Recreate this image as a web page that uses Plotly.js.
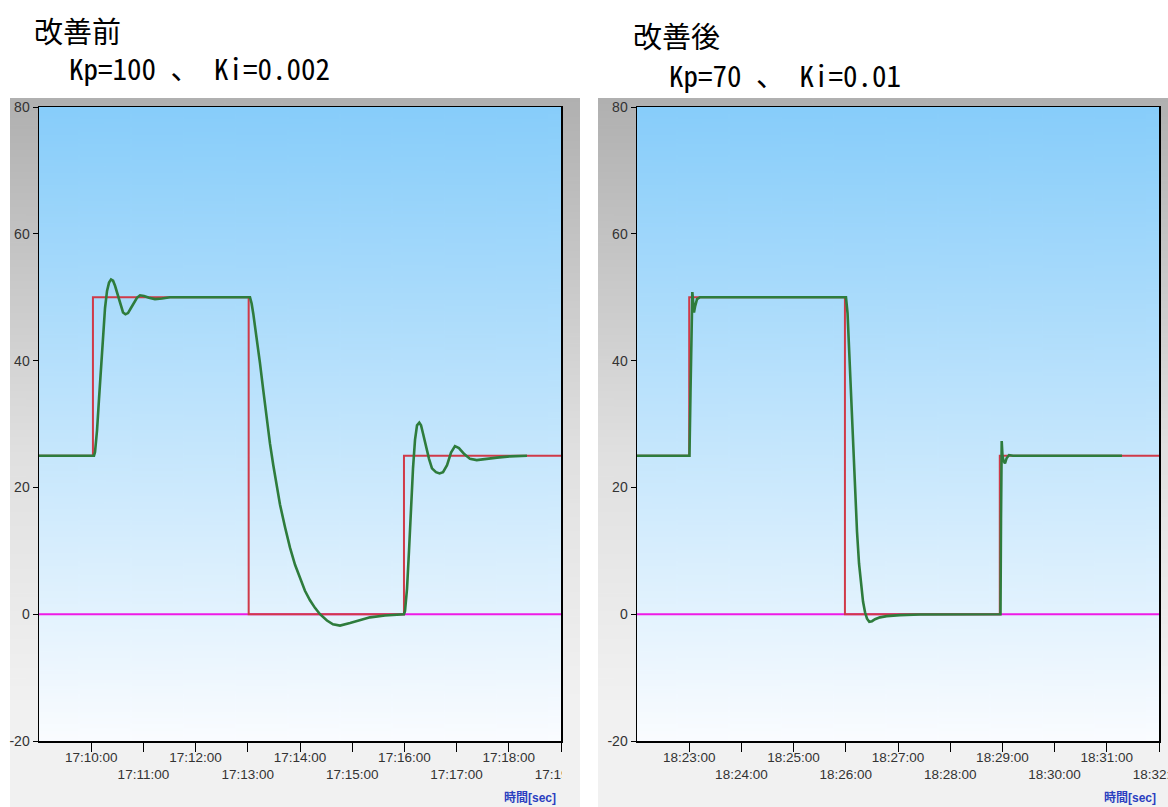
<!DOCTYPE html>
<html>
<head>
<meta charset="utf-8">
<script src="https://cdn.plot.ly/plotly-3.0.1.min.js"></script>
<style>html,body{margin:0;padding:0;background:#fff;}#chart{width:1168px;height:807px;}</style>
</head>
<body>
<div id="chart"></div>
<script>
// ---------------- DATA ----------------
const DAY = '2000-01-01 ';
const TITLE_L = '改善前';
const PARAM_L = 'Kp=100 、 Ki=0.002';
const TITLE_R = '改善後';
const PARAM_R = 'Kp=70 、 Ki=0.01';
const XLABEL = '時間[sec]';

const Y_TICKS = [-20, 0, 20, 40, 60, 80];

const X_RANGE_L = ['17:09:00', '17:19:00'];
const X_RANGE_R = ['18:22:00', '18:32:00'];
const X_TICKS_L = ['17:10:00','17:11:00','17:12:00','17:13:00','17:14:00','17:15:00','17:16:00','17:17:00','17:18:00','17:19:00'];
const X_TICKS_R = ['18:23:00','18:24:00','18:25:00','18:26:00','18:27:00','18:28:00','18:29:00','18:30:00','18:31:00','18:32:00'];

// zero (magenta) line
const ZERO_T_L = ['17:09:00', '17:19:00'];
const ZERO_T_R = ['18:22:00', '18:32:00'];
const ZERO_V = [0, 0];

// set value (red, stepped)
const SV_T_L = ['17:09:00','17:10:02','17:13:01','17:15:59.5','17:19:00'];
const SV_V_L = [25, 50, 0, 25, 25];
const SV_T_R = ['18:22:00','18:23:00','18:25:59','18:28:57','18:32:00'];
const SV_V_R = [25, 50, 0, 25, 25];

// process value (green) – before improvement
const PV_T_L = ['17:09:00','17:10:03.2','17:10:04.4','17:10:05.5','17:10:06.7','17:10:09.0','17:10:11.3','17:10:13.6','17:10:15.9','17:10:18.2','17:10:20.5','17:10:22.8','17:10:25.1','17:10:27.4','17:10:29.7','17:10:32.0','17:10:34.3','17:10:36.6','17:10:39.4','17:10:42.3','17:10:45.7','17:10:49.2','17:10:52.6','17:10:56.1','17:11:00.7','17:11:06.4','17:11:13.3','17:11:21.4','17:11:30.6',
  '17:13:02.5','17:13:04.4','17:13:06.3','17:13:10.2','17:13:14.0','17:13:17.8','17:13:21.7','17:13:25.5','17:13:29.3','17:13:33.2','17:13:37.0','17:13:42.8','17:13:48.5','17:13:54.3','17:14:00.0','17:14:05.7','17:14:11.5','17:14:17.2','17:14:23.0','17:14:31.0','17:14:37.9','17:14:46.0','17:14:57.5','17:15:09.0','17:15:20.5','17:15:37.7','17:15:55.0',
  '17:15:59.5','17:16:00.7','17:16:03.0','17:16:05.3','17:16:07.6','17:16:09.9','17:16:12.2','17:16:14.5','17:16:17.1','17:16:19.1','17:16:21.4','17:16:24.8','17:16:28.3','17:16:31.7','17:16:36.3','17:16:40.4','17:16:44.4','17:16:49.0','17:16:53.6','17:16:58.1','17:17:02.7','17:17:08.5','17:17:15.4','17:17:23.1','17:17:32.6','17:17:46.4','17:18:01.4','17:18:20.9'];
const PV_V_L = [25,25,25.6,27,29,34,39,44,48.3,51,52.3,52.8,52.6,51.8,50.7,49.4,48.3,47.6,47.3,47.5,48.3,49.2,49.9,50.3,50.2,49.9,49.7,49.8,50,
  50,49,47.4,43.8,39.6,35.3,30.8,26.9,23.5,20.3,17.3,13.7,10.5,7.8,5.6,3.7,2.2,1.0,0,-1.0,-1.6,-1.8,-1.4,-0.9,-0.5,-0.2,-0.05,
  0,0.5,4,10,17,23,27.5,29.8,30.2,29.8,28.5,26.5,24.5,23,22.4,22.2,22.4,23.5,25.5,26.5,26.2,25.3,24.5,24.3,24.5,24.7,24.9,25];

// process value (green) – after improvement
const PV_T_R = ['18:22:00','18:23:00.3','18:23:01.5','18:23:02.6','18:23:03.6','18:23:04.4','18:23:05.5','18:23:06.7','18:23:09.0','18:23:12.4',
  '18:26:00.2','18:26:02.0','18:26:03.7','18:26:06.0','18:26:08.3','18:26:10.6','18:26:12.9','18:26:15.2','18:26:17.5','18:26:19.8','18:26:22.1','18:26:24.4','18:26:27.0','18:26:30.1','18:26:33.6','18:26:39.3','18:26:47.0','18:27:02.3','18:27:25.3','18:27:59.8',
  '18:28:57.8','18:28:58.4','18:28:59.2','18:29:00.1','18:29:01.3','18:29:03.0','18:29:04.8','18:29:07.6','18:29:12.2','18:31:17.5'];
const PV_V_R = [25,25,35,46,50.8,49.5,47.6,48.5,49.7,50,
  50,47.5,42,34,26,19,13,8,4.5,2.0,0.3,-0.7,-1.2,-1.1,-0.8,-0.5,-0.3,-0.15,-0.05,0,
  0,15,27.3,25,24.2,23.8,24.6,25.1,25,25];

// ---------------- LAYOUT HELPERS ----------------
const W = 1168, H = 807;
const px = v => v / W;
const py = v => 1 - v / H;
const d = arr => arr.map(t => DAY + t);

function gradient(stops, w, h) {
  const c = document.createElement('canvas');
  c.width = w; c.height = h;
  const g = c.getContext('2d');
  const lg = g.createLinearGradient(0, 0, 0, h);
  stops.forEach(s => lg.addColorStop(s[0], s[1]));
  g.fillStyle = lg; g.fillRect(0, 0, w, h);
  return c.toDataURL('image/png');
}
const PANEL_BOTTOM = '#f1f1f1';
const panelImg = gradient([[0,'#b0b0b0'],[0.5,'#e0e0e0'],[0.85, PANEL_BOTTOM],[1, PANEL_BOTTOM]], 20, 400);
const plotImg = gradient([[0,'rgb(135,205,250)'],[1,'rgb(250,252,255)']], 20, 400);

const PLOT_TOP = 107, PLOT_BOT = 741;
const L0 = 39, L1 = 561, R0 = 637, R1 = 1159;

function altText(ticks) {
  return ticks.map((t, i) => (i % 2 === 0 ? t : '<br>' + t));
}

function xaxis(domain, range, ticks, anchor) {
  return {
    type: 'date', domain: domain, range: d(range), anchor: anchor,
    tickmode: 'array', tickvals: d(ticks), ticktext: altText(ticks),
    ticks: 'outside', ticklen: 9, tickwidth: 1, tickcolor: '#000',
    ticklabelstandoff: -6, ticklabeloverflow: 'allow',
    showline: true, linecolor: '#000', linewidth: 1.5, mirror: true,
    showgrid: false, zeroline: false,
    tickfont: {family: 'Liberation Sans, Arial, sans-serif', size: 13.5, color: '#333'},
    tickangle: 0, fixedrange: true
  };
}
function yaxis(anchor) {
  return {
    domain: [py(PLOT_BOT), py(PLOT_TOP)], range: [-20, 80], anchor: anchor,
    tickmode: 'array', tickvals: Y_TICKS, ticktext: Y_TICKS.map(String),
    ticks: 'outside', ticklen: 5, tickcolor: '#000',
    showline: true, linecolor: '#000', linewidth: 1.5, mirror: true,
    showgrid: false, zeroline: false,
    tickfont: {family: 'Liberation Sans, Arial, sans-serif', size: 14, color: '#333'},
    fixedrange: true
  };
}

const line = (x, y, xa, ya, color, width, shape) => ({
  type: 'scatter', mode: 'lines', x: d(x), y: y, xaxis: xa, yaxis: ya,
  line: {color: color, width: width, shape: shape || 'linear'}, hoverinfo: 'skip'
});

const MAG = '#ee1ae6', RED = '#d03a48', GRN = '#2e7c3c';

const data = [
  line(ZERO_T_L, ZERO_V, 'x', 'y', MAG, 2),
  line(SV_T_L, SV_V_L, 'x', 'y', RED, 2, 'hv'),
  line(PV_T_L, PV_V_L, 'x', 'y', GRN, 2.6),
  line(ZERO_T_R, ZERO_V, 'x2', 'y2', MAG, 2),
  line(SV_T_R, SV_V_R, 'x2', 'y2', RED, 2, 'hv'),
  line(PV_T_R, PV_V_R, 'x2', 'y2', GRN, 2.6)
];

const titleFont = {family: '"Noto Sans CJK JP", sans-serif', size: 29, color: '#000'};
const paramFont = {family: '"Noto Sans Mono CJK JP", "Noto Sans CJK JP", monospace', size: 29, color: '#000'};
const xlabFont = {family: 'Liberation Sans, "Noto Sans CJK JP", sans-serif', size: 12, color: '#2b3fc0'};

const layout = {
  width: W, height: H,
  margin: {l: 0, r: 0, t: 0, b: 0},
  paper_bgcolor: '#ffffff', plot_bgcolor: 'rgba(0,0,0,0)',
  showlegend: false, hovermode: false,
  xaxis: xaxis([px(L0), px(L1)], X_RANGE_L, X_TICKS_L, 'y'),
  yaxis: yaxis('x'),
  xaxis2: xaxis([px(R0), px(R1)], X_RANGE_R, X_TICKS_R, 'y2'),
  yaxis2: yaxis('x2'),
  images: [
    {source: panelImg, xref: 'paper', yref: 'paper', x: px(10), y: py(98), sizex: px(570), sizey: 709/H, xanchor: 'left', yanchor: 'top', sizing: 'stretch', layer: 'below'},
    {source: panelImg, xref: 'paper', yref: 'paper', x: px(598), y: py(98), sizex: px(570), sizey: 709/H, xanchor: 'left', yanchor: 'top', sizing: 'stretch', layer: 'below'},
    {source: plotImg, xref: 'paper', yref: 'paper', x: px(L0), y: py(PLOT_TOP), sizex: px(L1 - L0), sizey: (PLOT_BOT - PLOT_TOP)/H, xanchor: 'left', yanchor: 'top', sizing: 'stretch', layer: 'below'},
    {source: plotImg, xref: 'paper', yref: 'paper', x: px(R0), y: py(PLOT_TOP), sizex: px(R1 - R0), sizey: (PLOT_BOT - PLOT_TOP)/H, xanchor: 'left', yanchor: 'top', sizing: 'stretch', layer: 'below'}
  ],
  shapes: [
    // clip the last tick label of the left chart at the panel edge, like the original
    {type: 'rect', xref: 'paper', yref: 'paper', x0: px(562), x1: px(580), y0: py(790), y1: py(748), fillcolor: PANEL_BOTTOM, line: {width: 0}, layer: 'above'},
    {type: 'rect', xref: 'paper', yref: 'paper', x0: px(580), x1: px(598), y0: py(790), y1: py(748), fillcolor: '#ffffff', line: {width: 0}, layer: 'above'}
  ],
  annotations: [
    {text: TITLE_L, xref: 'paper', yref: 'paper', x: px(32), y: py(30), xanchor: 'left', yanchor: 'middle', showarrow: false, font: titleFont},
    {text: PARAM_L, xref: 'paper', yref: 'paper', x: px(67), y: py(67), xanchor: 'left', yanchor: 'middle', showarrow: false, font: paramFont},
    {text: TITLE_R, xref: 'paper', yref: 'paper', x: px(631), y: py(35), xanchor: 'left', yanchor: 'middle', showarrow: false, font: titleFont},
    {text: PARAM_R, xref: 'paper', yref: 'paper', x: px(667), y: py(74), xanchor: 'left', yanchor: 'middle', showarrow: false, font: paramFont},
    {text: '<b>' + XLABEL + '</b>', xref: 'paper', yref: 'paper', x: px(558), y: py(797), xanchor: 'right', yanchor: 'middle', showarrow: false, font: xlabFont},
    {text: '<b>' + XLABEL + '</b>', xref: 'paper', yref: 'paper', x: px(1158), y: py(797), xanchor: 'right', yanchor: 'middle', showarrow: false, font: xlabFont}
  ]
};

Plotly.newPlot('chart', data, layout, {staticPlot: true, displayModeBar: false});
</script>
</body>
</html>
